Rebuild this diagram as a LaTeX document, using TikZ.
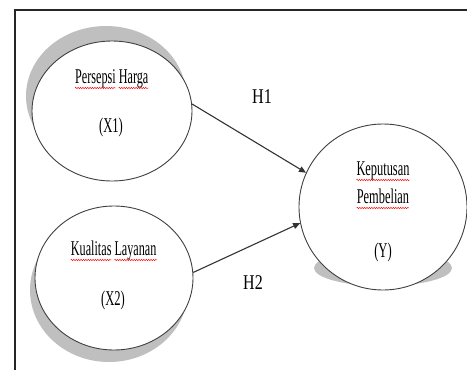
\documentclass[tikz,border=0pt]{standalone}
\usepackage{fontspec}
\setmainfont{Liberation Serif}
\usetikzlibrary{shapes.geometric,arrows.meta,decorations.pathmorphing}
\begin{document}
\begin{tikzpicture}[x=1pt,y=-1pt,
  frame/.style={draw=black!85, line width=1.4pt},
  shade/.style={fill=black!25, draw=none},
  var/.style={ellipse, draw=black!75, line width=0.9pt, fill=white, inner sep=0pt},
  lbl/.style={anchor=base, inner sep=0pt, font=\fontsize{21}{24}\selectfont},
  wlbl/.style={anchor=base west, inner sep=0pt, font=\fontsize{21}{24}\selectfont},
  spell/.style={draw=red, line width=0.45pt, decorate, decoration={snake, amplitude=0.7pt, segment length=2.4pt}},
  arr/.style={draw=black!80, line width=1.1pt, -{Triangle[length=7pt,width=6pt]}}]
\useasboundingbox (0,0) rectangle (467,370);
\draw[frame] (15,371) -- (15,10) -- (468,10);
% shadows
\fill[shade] (106,96) ellipse [x radius=80, y radius=70];
\fill[shade] (109,290) ellipse [x radius=79, y radius=72];
\fill[shade] (383,268) ellipse [x radius=69, y radius=18];
% variables
\node[var, minimum width=160pt, minimum height=140pt] (x1) at (112,111) {};
\node[var, minimum width=158pt, minimum height=144pt] (x2) at (114,278) {};
\node[var, minimum width=168pt, minimum height=166pt] (yv) at (383,207) {};
% texts
\node[wlbl] (w1) at (75,83) {\scalebox{0.58}[1]{Persepsi}};
\node[wlbl] (w2) at (118.6,83) {\scalebox{0.58}[1]{Harga}};
\node[lbl] (t1b) at (111,132) {\scalebox{0.6}[1]{(X1)}};
\node[wlbl] (w3) at (70.7,255) {\scalebox{0.58}[1]{Kualitas}};
\node[wlbl] (w4) at (114.3,255) {\scalebox{0.58}[1]{Layanan}};
\node[lbl] (t2b) at (113,305) {\scalebox{0.6}[1]{(X2)}};
\node[lbl] (w5) at (383,175) {\scalebox{0.59}[1]{Keputusan}};
\node[lbl] (w6) at (383,203) {\scalebox{0.59}[1]{Pembelian}};
\node[lbl] (t3c) at (383,257) {\scalebox{0.6}[1]{(Y)}};
\foreach \w in {w1,w2,w3,w4,w5,w6}
  \draw[spell] ([yshift=-5pt]\w.base west) -- ([yshift=-5pt]\w.base east);
% arrows
\draw[arr] (x1.5) -- (yv.156);
\draw[arr] (x2.4) -- (yv.191);
\node[lbl] (h1) at (262,103) {\scalebox{0.77}[1]{H1}};
\node[lbl] (h2) at (253,289) {\scalebox{0.76}[1]{H2}};
\end{tikzpicture}
\end{document}
